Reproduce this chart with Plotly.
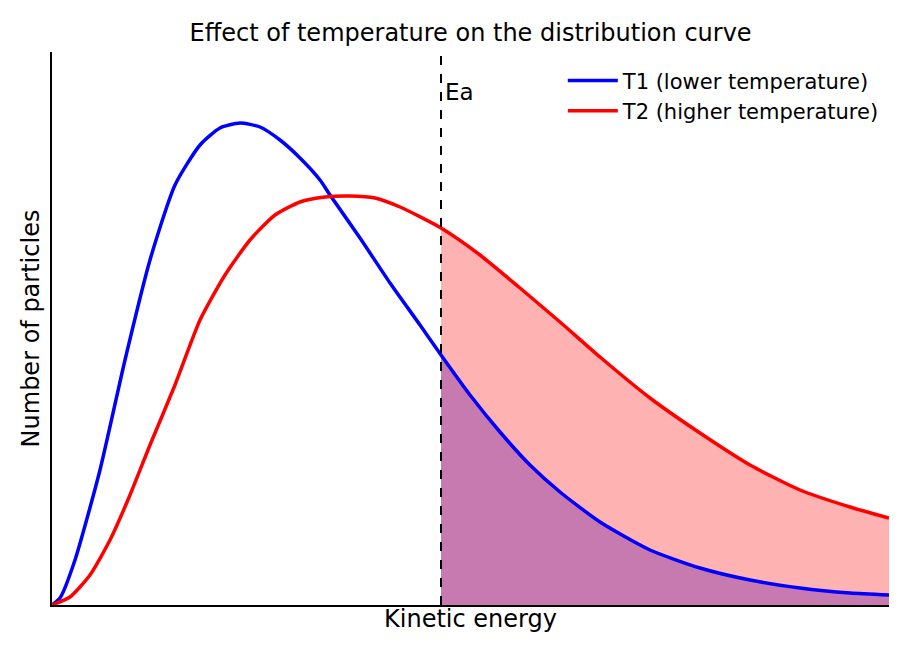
import plotly.graph_objects as go

# kinetic energy (arbitrary units) and particle counts
energy_t1 = [0, 0.8, 2.3, 4.8, 7.3, 9.8, 12.3, 14.8, 16.8, 18.8, 20.8, 22.8, 24.8, 26.8, 27.8,
             30.8, 33.8, 36.8, 38.9, 41.8, 44.8, 47.8, 50.8, 54.8, 59.8, 64.8, 69.8, 74.8, 79.8, 83.7]
count_t1 = [0, 0.7, 4.5, 13.5, 24.5, 34.5, 42, 46, 47.7, 48.2, 47.8, 46.5, 44.7, 42.5, 41,
            36.7, 32.2, 28, 25, 21, 17.3, 14, 11.3, 8.3, 5.5, 3.7, 2.5, 1.7, 1.2, 1.0]

energy_t2 = [0, 1.8, 3.8, 5.8, 7.8, 9.8, 12.3, 14.8, 17.3, 19.8, 22.3, 24.8, 27.3, 29.8, 32.3,
             34.8, 38.9, 42.8, 46.8, 50.8, 54.8, 59.8, 64.8, 69.8, 74.8, 79.8, 83.7]
count_t2 = [0, 0.8, 3, 6.5, 11, 16, 22, 28.5, 33, 36.5, 39, 40.3, 40.8, 40.9, 40.7,
            39.8, 37.7, 35, 31.7, 28.3, 24.8, 20.7, 17.2, 14, 11.5, 9.8, 8.7]

ea = 38.9
x_max = 83.7
y_max = 55.3
smooth = 0.6

fig = go.Figure()

# shaded areas beyond the activation energy
x2 = [x for x in energy_t2 if x >= ea]
y2 = [y for x, y in zip(energy_t2, count_t2) if x >= ea]
x1 = [x for x in energy_t1 if x >= ea]
y1 = [y for x, y in zip(energy_t1, count_t1) if x >= ea]

fig.add_trace(go.Scatter(x=x2, y=y2, fill="tozeroy", fillcolor="#ffb2b2", mode="none",
                         line=dict(shape="spline", smoothing=smooth), showlegend=False, hoverinfo="skip"))
fig.add_trace(go.Scatter(x=x1, y=y1, fill="tozeroy", fillcolor="#c77ab0", mode="none",
                         line=dict(shape="spline", smoothing=smooth), showlegend=False, hoverinfo="skip"))

fig.add_trace(go.Scatter(x=energy_t1, y=count_t1, mode="lines", name="T1 (lower temperature)",
                         line=dict(color="blue", width=3.5, shape="spline", smoothing=smooth)))
fig.add_trace(go.Scatter(x=energy_t2, y=count_t2, mode="lines", name="T2 (higher temperature)",
                         line=dict(color="red", width=3.5, shape="spline", smoothing=smooth)))

fig.add_shape(type="line", x0=ea, x1=ea, y0=0, y1=y_max - 0.3, xref="x", yref="y",
              line=dict(color="black", width=2, dash="dash"))
fig.add_annotation(x=ea, y=51.3, text="Ea", showarrow=False, xanchor="left", xshift=2,
                   font=dict(size=23, color="black"))

fig.update_layout(
    width=907, height=658,
    margin=dict(l=44, r=26, t=44, b=61),
    plot_bgcolor="white", paper_bgcolor="white",
    font=dict(family="DejaVu Sans", size=22, color="black"),
    title=dict(text="Effect of temperature on the distribution curve", x=0.51, xanchor="center",
               y=0.975, font=dict(size=24)),
    xaxis=dict(range=[0, x_max], showticklabels=False, ticks="", showgrid=False, zeroline=False,
               showline=True, linecolor="black", linewidth=1.5,
               title=dict(text="Kinetic energy", standoff=4, font=dict(size=24))),
    yaxis=dict(range=[0, y_max], showticklabels=False, ticks="", showgrid=False, zeroline=False,
               showline=True, linecolor="black", linewidth=1.5,
               title=dict(text="Number of particles", standoff=4, font=dict(size=24))),
    legend=dict(x=0.995, y=0.985, xanchor="right", yanchor="top", bgcolor="rgba(0,0,0,0)",
                font=dict(size=21), itemwidth=50, tracegroupgap=0),
)

fig.write_html("out.html")
